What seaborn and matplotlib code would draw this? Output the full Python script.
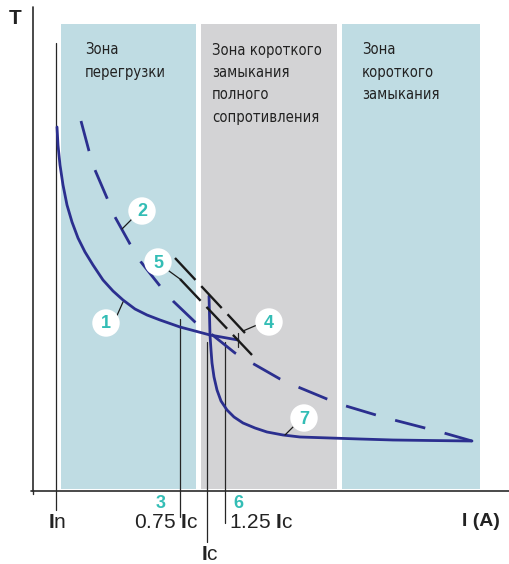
import matplotlib
matplotlib.use("Agg")
import matplotlib.pyplot as plt
import seaborn as sns
import pandas as pd

sns.set_theme(style="white")
plt.rcParams['font.family'] = ['Liberation Sans', 'DejaVu Sans']
plt.rcParams['mathtext.fontset'] = 'custom'
plt.rcParams['mathtext.rm'] = 'Liberation Sans'
plt.rcParams['mathtext.bf'] = 'Liberation Sans:bold'

# ---- data (diagram coordinates) ----
zone_left = [61, 201, 342]
zone_right = [196, 337, 480]
zone_top = 24
zone_bottom = 489
zone_colors = ['#bfdce3', '#d3d3d5', '#bfdce3']
zone_texts = [["Зона", "перегрузки"],
              ["Зона короткого", "замыкания", "полного", "сопротивления"],
              ["Зона", "короткого", "замыкания"]]
zone_text_x = [85, 212, 362]

curve1_x = [57, 58, 60, 63, 67, 72, 78, 85, 93, 103, 113, 123, 135, 147, 160, 180, 210, 238]
curve1_y = [127, 145, 165, 185, 205, 222, 238, 252, 265, 280, 291, 300, 309, 315, 320, 327, 335, 340]

curve7_x = [209, 209.5, 210, 211, 212, 214, 217, 221, 227, 234, 243, 255, 267, 283, 300, 330, 360, 393, 430, 472]
curve7_y = [296, 315, 335, 350, 363, 377, 390, 401, 410, 417, 423, 428, 432, 435, 437, 438, 439, 440, 440.5, 441]

curve2_x = [81, 89, 95, 107, 115, 130, 141, 160, 173, 195, 210, 235, 252, 280, 298, 327, 346, 376, 394, 425, 444, 472]
curve2_y = [121, 151, 170, 198, 217, 244, 262, 286, 301, 322, 333, 353, 363, 379, 387, 399, 406, 415, 420, 428, 433, 441]

curve5a_x = [175, 245]
curve5a_y = [258, 333]
curve5b_x = [180, 252]
curve5b_y = [279, 355]

vline_x = [56.5, 180.5, 207.5, 225.5, 238.5]
vline_top = [43, 319, 342, 342, 333]
vline_bottom = [510, 517, 542, 523, 347]

badge_labels = ["1", "2", "5", "4", "7"]
badge_x = [106, 142, 158, 269, 304]
badge_y = [323, 211, 262, 322, 418]
pointer_x0 = [115, 132, 169, 257, 293]
pointer_y0 = [320, 219, 271, 325, 427]
pointer_x1 = [123, 122, 180, 243, 285]
pointer_y1 = [302, 229, 279, 331, 435]

tick_labels = ["$\\mathbf{I}$n", "0.75 $\\mathbf{I}$c", "$\\mathbf{I}$c", "1.25 $\\mathbf{I}$c"]
tick_label_x = [57, 198, 210, 229]
tick_label_y = [522, 523, 555, 522]
tick_label_ha = ['center', 'right', 'center', 'left']
teal_nums = ["3", "6"]
teal_x = [161, 238]
teal_y = [503, 503]

BLUE = '#2b2f8f'
TEAL = '#33bdb5'
DARK = '#2a2a2a'

fig = plt.figure(figsize=(5.09, 5.64), dpi=100)
ax = fig.add_axes([0, 0, 1, 1])
ax.set_xlim(0, 509)
ax.set_ylim(564, 0)
ax.axis('off')


def seg(x, y, **kw):
    sns.lineplot(x=x, y=y, ax=ax, sort=False, estimator=None, **kw)


# zones
ax.bar(x=zone_left, height=zone_bottom - zone_top,
       width=[r - l for l, r in zip(zone_left, zone_right)],
       bottom=zone_top, align='edge',
       color=zone_colors, linewidth=0, zorder=0)
for tx, lines in zip(zone_text_x, zone_texts):
    for i, t in enumerate(lines):
        ax.text(tx, 50 + i * 22.4, t, ha='left', va='center', fontsize=10.6,
                family='DejaVu Sans', fontstretch='condensed', color='#222222', zorder=5)

# axes lines
seg([33.5, 33.5], [7, 491], color=DARK, lw=1.2, zorder=3)
seg([31, 509], [490.5, 490.5], color=DARK, lw=1.2, zorder=3)
seg([33.5, 33.5], [490, 494], color=DARK, lw=1.0, zorder=3)

# thin vertical marker lines
for x, t, b in zip(vline_x, vline_top, vline_bottom):
    seg([x, x], [t, b], color='#262626', lw=0.9, zorder=2)

# curves
seg(curve1_x, curve1_y, color=BLUE, lw=2.0, zorder=4)
seg(curve7_x, curve7_y, color=BLUE, lw=2.0, zorder=4)
seg(curve2_x, curve2_y, color=BLUE, lw=2.0, zorder=4, linestyle=(0, (11.2, 7.2)))
seg(curve5a_x, curve5a_y, color='#1a1a1a', lw=1.7, zorder=4, linestyle=(0, (12.7, 3.6)))
seg(curve5b_x, curve5b_y, color='#1a1a1a', lw=1.7, zorder=4, linestyle=(0, (12.7, 3.6)))

# pointers and badges
for x0, y0, x1, y1 in zip(pointer_x0, pointer_y0, pointer_x1, pointer_y1):
    seg([x0, x1], [y0, y1], color='#1a1a1a', lw=0.9, zorder=5)
sns.scatterplot(x=badge_x, y=badge_y, ax=ax, s=390, color='white', edgecolor='none',
                zorder=6, legend=False)
for lab, x, y in zip(badge_labels, badge_x, badge_y):
    ax.text(x, y + 1, lab, ha='center', va='center', fontsize=13, fontweight='bold',
            color=TEAL, zorder=7)

# labels
for lab, x, y, ha in zip(tick_labels, tick_label_x, tick_label_y, tick_label_ha):
    ax.text(x, y, lab, ha=ha, va='center', fontsize=15, color='#222222', zorder=7)
for lab, x, y in zip(teal_nums, teal_x, teal_y):
    ax.text(x, y, lab, ha='center', va='center', fontsize=13, fontweight='bold',
            color=TEAL, zorder=7)
ax.text(481, 521, "I (A)", ha='center', va='center', fontsize=14, fontweight='bold',
        color='#222222', zorder=7)
ax.text(15, 19, "T", ha='center', va='center', fontsize=15, fontweight='bold',
        color='#222222', zorder=7)

fig.savefig("out.png", dpi=100)
